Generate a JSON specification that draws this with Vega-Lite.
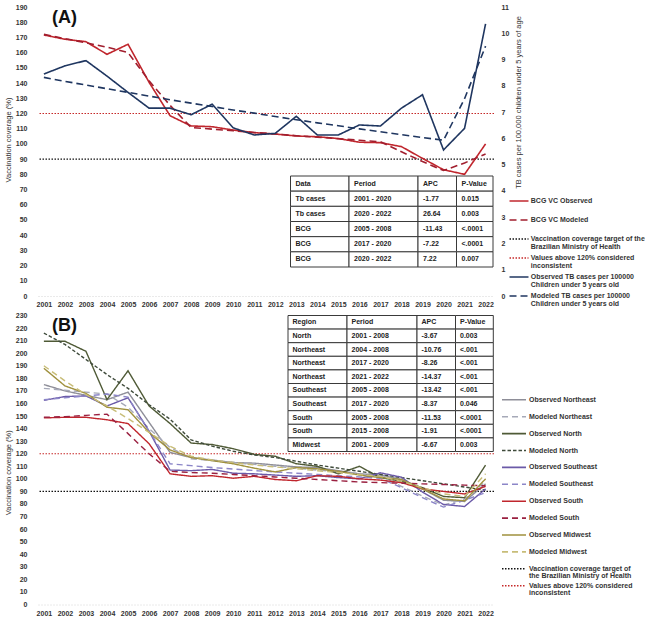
{
  "$schema": "https://vega.github.io/schema/vega-lite/v6.json",
  "padding": {"left": 4, "top": 3, "right": 0, "bottom": 0},
  "spacing": 4.5,
  "config": {
    "font": "Liberation Sans",
    "view": {"stroke": null},
    "axis": {
      "labelFont": "Liberation Sans", "labelFontSize": 7, "labelFontWeight": "bold", "labelColor": "#333333",
      "ticks": false, "grid": false, "domain": false, "labelOverlap": false, "tickCount": 30,
      "titleFont": "Liberation Sans", "titleFontSize": 7.5, "titleFontWeight": "normal", "titleColor": "#333333"
    },
    "legend": {
      "labelFont": "Liberation Sans", "labelFontSize": 7, "labelFontWeight": "bold", "labelColor": "#333333",
      "symbolType": "M-3,0H3", "symbolStrokeWidth": 1.6, "labelLimit": 400, "padding": 0, "gridAlign": "all"
    },
    "style": {"guide-label": {"lineHeight": 7.5}}
  },
  "datasets": {
    "panelA": [
      {"year": 2001, "BCG VC Observed": 171.6, "BCG VC Modeled": 172, "TB Observed": 8.45, "TB Modeled": 8.32},
      {"year": 2002, "BCG VC Observed": 168.8, "BCG VC Modeled": 169.2, "TB Observed": 8.76, "TB Modeled": 8.17},
      {"year": 2003, "BCG VC Observed": 167.2, "BCG VC Modeled": 166.5, "TB Observed": 8.96, "TB Modeled": 8.03},
      {"year": 2004, "BCG VC Observed": 158.9, "BCG VC Modeled": 163.6, "TB Observed": 8.37, "TB Modeled": 7.89},
      {"year": 2005, "BCG VC Observed": 165.5, "BCG VC Modeled": 160, "TB Observed": 7.75, "TB Modeled": 7.75},
      {"year": 2006, "BCG VC Observed": 140.5, "BCG VC Modeled": 141.5, "TB Observed": 7.15, "TB Modeled": 7.61},
      {"year": 2007, "BCG VC Observed": 118.5, "BCG VC Modeled": 125.3, "TB Observed": 7.15, "TB Modeled": 7.47},
      {"year": 2008, "BCG VC Observed": 111.8, "BCG VC Modeled": 110.8, "TB Observed": 6.9, "TB Modeled": 7.34},
      {"year": 2009, "BCG VC Observed": 111.3, "BCG VC Modeled": 109.7, "TB Observed": 7.3, "TB Modeled": 7.21},
      {"year": 2010, "BCG VC Observed": 109.1, "BCG VC Modeled": 108.6, "TB Observed": 6.4, "TB Modeled": 7.08},
      {"year": 2011, "BCG VC Observed": 107.4, "BCG VC Modeled": 107.5, "TB Observed": 6.13, "TB Modeled": 6.96},
      {"year": 2012, "BCG VC Observed": 106.5, "BCG VC Modeled": 106.5, "TB Observed": 6.19, "TB Modeled": 6.83},
      {"year": 2013, "BCG VC Observed": 105.2, "BCG VC Modeled": 105.4, "TB Observed": 6.84, "TB Modeled": 6.71},
      {"year": 2014, "BCG VC Observed": 104.7, "BCG VC Modeled": 104.4, "TB Observed": 6.13, "TB Modeled": 6.59},
      {"year": 2015, "BCG VC Observed": 103.5, "BCG VC Modeled": 103.4, "TB Observed": 6.13, "TB Modeled": 6.48},
      {"year": 2016, "BCG VC Observed": 101.1, "BCG VC Modeled": 102.4, "TB Observed": 6.51, "TB Modeled": 6.36},
      {"year": 2017, "BCG VC Observed": 100.8, "BCG VC Modeled": 101.4, "TB Observed": 6.47, "TB Modeled": 6.25},
      {"year": 2018, "BCG VC Observed": 98.2, "BCG VC Modeled": 94.8, "TB Observed": 7.15, "TB Modeled": 6.14},
      {"year": 2019, "BCG VC Observed": 90.5, "BCG VC Modeled": 88.4, "TB Observed": 7.66, "TB Modeled": 6.03},
      {"year": 2020, "BCG VC Observed": 83, "BCG VC Modeled": 82.5, "TB Observed": 5.56, "TB Modeled": 5.93},
      {"year": 2021, "BCG VC Observed": 80, "BCG VC Modeled": 87.5, "TB Observed": 6.38, "TB Modeled": 7.51},
      {"year": 2022, "BCG VC Observed": 100, "BCG VC Modeled": 93.3, "TB Observed": 10.36, "TB Modeled": 9.51}
    ],
    "panelB": [
      {"year": 2001, "Observed Northeast": 175, "Modeled Northeast": 172, "Observed North": 209.5, "Modeled North": 216, "Observed Southeast": 162.5, "Modeled Southeast": 163, "Observed South": 148.5, "Modeled South": 149, "Observed Midwest": 188, "Modeled Midwest": 190},
      {"year": 2002, "Observed Northeast": 170, "Modeled Northeast": 170.5, "Observed North": 209.5, "Modeled North": 207, "Observed Southeast": 165.5, "Modeled Southeast": 164.5, "Observed South": 149, "Modeled South": 149.5, "Observed Midwest": 174, "Modeled Midwest": 178},
      {"year": 2003, "Observed Northeast": 166.5, "Modeled Northeast": 169, "Observed North": 201.5, "Modeled North": 195, "Observed Southeast": 166, "Modeled Southeast": 166, "Observed South": 149, "Modeled South": 150.5, "Observed Midwest": 168, "Modeled Midwest": 167},
      {"year": 2004, "Observed Northeast": 163, "Modeled Northeast": 167.5, "Observed North": 163, "Modeled North": 183, "Observed Southeast": 158, "Modeled Southeast": 167.5, "Observed South": 147, "Modeled South": 151.5, "Observed Midwest": 157, "Modeled Midwest": 158},
      {"year": 2005, "Observed Northeast": 169, "Modeled Northeast": 157, "Observed North": 186, "Modeled North": 172, "Observed Southeast": 164.5, "Modeled Southeast": 165, "Observed South": 144, "Modeled South": 136, "Observed Midwest": 155, "Modeled Midwest": 148},
      {"year": 2006, "Observed Northeast": 145, "Modeled Northeast": 140, "Observed North": 158, "Modeled North": 159, "Observed Southeast": 138, "Modeled Southeast": 138, "Observed South": 128, "Modeled South": 120, "Observed Midwest": 137, "Modeled Midwest": 137},
      {"year": 2007, "Observed Northeast": 121, "Modeled Northeast": 125, "Observed North": 144, "Modeled North": 147.5, "Observed Southeast": 107, "Modeled Southeast": 112, "Observed South": 104, "Modeled South": 106, "Observed Midwest": 123, "Modeled Midwest": 126},
      {"year": 2008, "Observed Northeast": 117, "Modeled Northeast": 116, "Observed North": 128.5, "Modeled North": 131, "Observed Southeast": 106.5, "Modeled Southeast": 110.5, "Observed South": 102, "Modeled South": 105, "Observed Midwest": 117, "Modeled Midwest": 118},
      {"year": 2009, "Observed Northeast": 115, "Modeled Northeast": 114.5, "Observed North": 127.3, "Modeled North": 126, "Observed Southeast": 107.5, "Modeled Southeast": 109, "Observed South": 102.5, "Modeled South": 104.5, "Observed Midwest": 114.5, "Modeled Midwest": 115},
      {"year": 2010, "Observed Northeast": 113, "Modeled Northeast": 113, "Observed North": 124, "Modeled North": 122, "Observed Southeast": 104.5, "Modeled Southeast": 107.8, "Observed South": 100.5, "Modeled South": 103.5, "Observed Midwest": 112, "Modeled Midwest": 113},
      {"year": 2011, "Observed Northeast": 112.5, "Modeled Northeast": 111.5, "Observed North": 119.5, "Modeled North": 119, "Observed Southeast": 104, "Modeled Southeast": 106.6, "Observed South": 102, "Modeled South": 102.5, "Observed Midwest": 108.5, "Modeled Midwest": 111},
      {"year": 2012, "Observed Northeast": 111, "Modeled Northeast": 110, "Observed North": 118, "Modeled North": 117, "Observed Southeast": 103, "Modeled Southeast": 105.5, "Observed South": 99.5, "Modeled South": 101.5, "Observed Midwest": 105.5, "Modeled Midwest": 109.5},
      {"year": 2013, "Observed Northeast": 109.5, "Modeled Northeast": 108.5, "Observed North": 112, "Modeled North": 114, "Observed Southeast": 102, "Modeled Southeast": 104.5, "Observed South": 98.5, "Modeled South": 100.5, "Observed Midwest": 109, "Modeled Midwest": 108},
      {"year": 2014, "Observed Northeast": 109, "Modeled Northeast": 107, "Observed North": 110, "Modeled North": 111, "Observed Southeast": 102.5, "Modeled Southeast": 103.5, "Observed South": 102.5, "Modeled South": 99.5, "Observed Midwest": 108, "Modeled Midwest": 106.5},
      {"year": 2015, "Observed Northeast": 106.5, "Modeled Northeast": 105.5, "Observed North": 104, "Modeled North": 108.5, "Observed Southeast": 101, "Modeled Southeast": 102.5, "Observed South": 102, "Modeled South": 98.5, "Observed Midwest": 106, "Modeled Midwest": 105},
      {"year": 2016, "Observed Northeast": 104, "Modeled Northeast": 104, "Observed North": 110, "Modeled North": 106, "Observed Southeast": 100, "Modeled Southeast": 101.5, "Observed South": 100, "Modeled South": 97.5, "Observed Midwest": 103, "Modeled Midwest": 103.5},
      {"year": 2017, "Observed Northeast": 103, "Modeled Northeast": 102.5, "Observed North": 101, "Modeled North": 103.5, "Observed Southeast": 104.8, "Modeled Southeast": 100.5, "Observed South": 99, "Modeled South": 97, "Observed Midwest": 101, "Modeled Midwest": 102},
      {"year": 2018, "Observed Northeast": 99.5, "Modeled Northeast": 94, "Observed North": 98, "Modeled North": 101, "Observed Southeast": 101.3, "Modeled Southeast": 93, "Observed South": 97, "Modeled South": 96.5, "Observed Midwest": 99.5, "Modeled Midwest": 98},
      {"year": 2019, "Observed Northeast": 92, "Modeled Northeast": 86.3, "Observed North": 93, "Modeled North": 98.5, "Observed Southeast": 89.5, "Modeled Southeast": 85, "Observed South": 92, "Modeled South": 96, "Observed Midwest": 92, "Modeled Midwest": 93},
      {"year": 2020, "Observed Northeast": 83, "Modeled Northeast": 79.2, "Observed North": 86, "Modeled North": 96, "Observed Southeast": 79.6, "Modeled Southeast": 77.5, "Observed South": 90, "Modeled South": 95.5, "Observed Midwest": 84, "Modeled Midwest": 88},
      {"year": 2021, "Observed Northeast": 82, "Modeled Northeast": 84, "Observed North": 85, "Modeled North": 93.5, "Observed Southeast": 78, "Modeled Southeast": 83, "Observed South": 88, "Modeled South": 95, "Observed Midwest": 82.5, "Modeled Midwest": 86},
      {"year": 2022, "Observed Northeast": 96, "Modeled Northeast": 98, "Observed North": 111, "Modeled North": 91, "Observed Southeast": 92, "Modeled Southeast": 89, "Observed South": 94, "Modeled South": 94.5, "Observed Midwest": 100, "Modeled Midwest": 104}
    ],
    "limits": [
      {"series": "Target", "value": 90},
      {"series": "Above 120%", "value": 120}
    ],
    "tableA": [
      {"Data": "Tb cases", "Period": "2001 - 2020", "APC": "-1.77", "P-Value": "0.015"},
      {"Data": "Tb cases", "Period": "2020 - 2022", "APC": "26.64", "P-Value": "0.003"},
      {"Data": "BCG", "Period": "2005 - 2008", "APC": "-11.43", "P-Value": "<.0001"},
      {"Data": "BCG", "Period": "2017 - 2020", "APC": "-7.22", "P-Value": "<.0001"},
      {"Data": "BCG", "Period": "2020 - 2022", "APC": "7.22", "P-Value": "0.007"}
    ],
    "tableB": [
      {"Region": "North", "Period": "2001 - 2008", "APC": "-3.67", "P-Value": "0.003"},
      {"Region": "Northeast", "Period": "2004 - 2008", "APC": "-10.76", "P-Value": "<.001"},
      {"Region": "Northeast", "Period": "2017 - 2020", "APC": "-8.26", "P-Value": "<.001"},
      {"Region": "Northeast", "Period": "2021 - 2022", "APC": "-14.37", "P-Value": "<.001"},
      {"Region": "Southeast", "Period": "2005 - 2008", "APC": "-13.42", "P-Value": "<.001"},
      {"Region": "Southeast", "Period": "2017 - 2020", "APC": "-8.37", "P-Value": "0.046"},
      {"Region": "South", "Period": "2005 - 2008", "APC": "-11.53", "P-Value": "<.0001"},
      {"Region": "South", "Period": "2015 - 2008", "APC": "-1.91", "P-Value": "<.0001"},
      {"Region": "Midwest", "Period": "2001 - 2009", "APC": "-6.67", "P-Value": "0.003"}
    ]
  },
  "vconcat": [
    {
      "width": 456,
      "height": 289,
      "layer": [
        {
          "layer": [
            {
              "layer": [
                {
                  "data": {"name": "limits"},
                  "mark": {"type": "rule", "strokeWidth": 1.1},
                  "encoding": {
                    "y": {"field": "value", "type": "quantitative"},
                    "color": {"field": "series", "type": "nominal",
                      "scale": {"domain": ["BCG VC Observed", "BCG VC Modeled", "Target", "Above 120%", "TB Observed", "TB Modeled"],
                                "range": ["#C0262D", "#A11E2E", "#111111", "#C62828", "#1F3660", "#1F3660"]}},
                    "strokeDash": {"field": "series", "type": "nominal",
                      "scale": {"domain": ["BCG VC Observed", "BCG VC Modeled", "Target", "Above 120%", "TB Observed", "TB Modeled"],
                                "range": [[1, 0], [7, 4], [1.5, 1.5], [1.5, 1.5], [1, 0], [7, 4]]}}
                  }
                },
                {
                  "data": {"name": "panelA"},
                  "transform": [{"fold": ["BCG VC Observed", "BCG VC Modeled"], "as": ["series", "value"]}],
                  "mark": {"type": "line", "strokeWidth": 1.6},
                  "encoding": {
                    "x": {"field": "year", "type": "quantitative",
                      "scale": {"domain": [2000.72, 2022.4], "nice": false, "zero": false},
                      "axis": {"values": [2001, 2002, 2003, 2004, 2005, 2006, 2007, 2008, 2009, 2010, 2011, 2012, 2013, 2014, 2015, 2016, 2017, 2018, 2019, 2020, 2021, 2022],
                               "tickCount": 30, "format": "d", "title": null, "labelPadding": 4, "labelFlush": false, "labelOverlap": false,
                               "domain": true, "domainColor": "#d4d4d4", "domainDash": [1, 2]}},
                    "y": {"field": "value", "type": "quantitative",
                      "scale": {"domain": [0, 190], "nice": false},
                      "axis": {"orient": "left", "values": [0, 10, 20, 30, 40, 50, 60, 70, 80, 90, 100, 110, 120, 130, 140, 150, 160, 170, 180, 190],
                               "tickCount": 30, "format": "d", "title": "Vaccination coverage (%)", "labelPadding": 11, "labelOverlap": false,
                               "titleAngle": -90, "titleX": -30, "titleY": 132.5, "titleAlign": "center", "titleBaseline": "middle"}},
                    "color": {"field": "series", "type": "nominal",
                      "scale": {"domain": ["BCG VC Observed", "BCG VC Modeled", "Target", "Above 120%", "TB Observed", "TB Modeled"],
                                "range": ["#C0262D", "#A11E2E", "#111111", "#C62828", "#1F3660", "#1F3660"]},
                      "legend": {"orient": "none", "legendX": 477, "legendY": 190, "title": null, "symbolSize": 40, "labelOffset": 7.8, "rowPadding": 4,
                        "labelExpr": "datum.label == 'Target' ? ['Vaccination coverage target of the', 'Brazilian Ministry of Health'] : datum.label == 'Above 120%' ? ['Values above 120% considered', 'inconsistent'] : datum.label == 'TB Observed' ? ['Observed TB cases per 100000', 'Children under 5 years old'] : datum.label == 'TB Modeled' ? ['Modeled TB cases per 100000', 'Children under 5 years old'] : datum.label"}},
                    "strokeDash": {"field": "series", "type": "nominal",
                      "scale": {"domain": ["BCG VC Observed", "BCG VC Modeled", "Target", "Above 120%", "TB Observed", "TB Modeled"],
                                "range": [[1, 0], [7, 4], [1.5, 1.5], [1.5, 1.5], [1, 0], [7, 4]]},
                      "legend": {"orient": "none", "legendX": 477, "legendY": 190, "title": null, "symbolSize": 40, "labelOffset": 7.8, "rowPadding": 4,
                        "labelExpr": "datum.label == 'Target' ? ['Vaccination coverage target of the', 'Brazilian Ministry of Health'] : datum.label == 'Above 120%' ? ['Values above 120% considered', 'inconsistent'] : datum.label == 'TB Observed' ? ['Observed TB cases per 100000', 'Children under 5 years old'] : datum.label == 'TB Modeled' ? ['Modeled TB cases per 100000', 'Children under 5 years old'] : datum.label"}}
                  }
                },
                {
                  "data": {"values": [{"panel": "(A)"}]},
                  "mark": {"type": "text", "align": "left", "baseline": "alphabetic", "fontSize": 18, "fontWeight": "bold", "color": "#111111"},
                  "encoding": {
                    "x": {"datum": 2001.39, "type": "quantitative"},
                    "y": {"datum": 179.5, "type": "quantitative"},
                    "text": {"field": "panel"}
                  }
                }
              ]
            },
            {
              "data": {"name": "panelA"},
              "transform": [{"fold": ["TB Observed", "TB Modeled"], "as": ["series", "value"]}],
              "mark": {"type": "line", "strokeWidth": 1.6},
              "encoding": {
                "x": {"field": "year", "type": "quantitative"},
                "y": {"field": "value", "type": "quantitative",
                  "scale": {"domain": [0, 11], "nice": false},
                  "axis": {"orient": "right", "values": [0, 1, 2, 3, 4, 5, 6, 7, 8, 9, 10, 11],
                           "tickCount": 30, "format": "d", "title": "TB cases per 100,000 children under 5 years of age", "labelPadding": 7, "labelOverlap": false,
                           "titleAngle": -90, "titleX": 24, "titleY": 95, "titleAlign": "center", "titleBaseline": "middle"}},
                "color": {"field": "series", "type": "nominal",
                  "scale": {"domain": ["BCG VC Observed", "BCG VC Modeled", "Target", "Above 120%", "TB Observed", "TB Modeled"],
                            "range": ["#C0262D", "#A11E2E", "#111111", "#C62828", "#1F3660", "#1F3660"]}},
                "strokeDash": {"field": "series", "type": "nominal",
                  "scale": {"domain": ["BCG VC Observed", "BCG VC Modeled", "Target", "Above 120%", "TB Observed", "TB Modeled"],
                            "range": [[1, 0], [7, 4], [1.5, 1.5], [1.5, 1.5], [1, 0], [7, 4]]}}
              }
            }
          ],
          "resolve": {"scale": {"y": "independent"}}
        },
        {
          "data": {"name": "tableA"},
          "transform": [
            {"window": [{"op": "row_number", "as": "r"}]},
            {"fold": ["Data", "Period", "APC", "P-Value"], "as": ["key", "cell"]},
            {"calculate": "indexof(['Data', 'Period', 'APC', 'P-Value'], datum.key)", "as": "c"},
            {"calculate": "datum.c + 1", "as": "c1"},
            {"calculate": "datum.r + 1", "as": "r1"}
          ],
          "layer": [
            {
              "transform": [{"filter": "datum.r == 1"}],
              "mark": {"type": "rect", "fill": "white", "stroke": "#3a3a3a", "strokeWidth": 1},
              "encoding": {
                "x": {"field": "c", "type": "quantitative", "scale": {"domain": [0, 1, 2, 3, 4], "range": [252.5, 311, 380, 418.5, 455], "nice": false, "zero": false}, "axis": null},
                "x2": {"field": "c1"},
                "y": {"datum": 0, "type": "quantitative", "scale": {"domain": [0, 6], "range": [169, 260], "nice": false, "zero": false}, "axis": null},
                "y2": {"datum": 1}
              }
            },
            {
              "mark": {"type": "rect", "fill": "white", "stroke": "#3a3a3a", "strokeWidth": 1},
              "encoding": {
                "x": {"field": "c", "type": "quantitative"},
                "x2": {"field": "c1"},
                "y": {"field": "r", "type": "quantitative"},
                "y2": {"field": "r1"}
              }
            },
            {
              "transform": [{"filter": "datum.r == 1"}],
              "mark": {"type": "text", "align": "left", "baseline": "middle", "dx": 5, "dy": 7.6, "fontSize": 7, "fontWeight": "bold", "color": "#222222"},
              "encoding": {
                "x": {"field": "c", "type": "quantitative"},
                "y": {"datum": 0, "type": "quantitative"},
                "text": {"field": "key"}
              }
            },
            {
              "mark": {"type": "text", "align": "left", "baseline": "middle", "dx": 5, "dy": 7.6, "fontSize": 7, "fontWeight": "bold", "color": "#222222"},
              "encoding": {
                "x": {"field": "c", "type": "quantitative"},
                "y": {"field": "r", "type": "quantitative"},
                "text": {"field": "cell"}
              }
            }
          ]
        }
      ],
      "resolve": {"scale": {"x": "independent", "y": "independent"}}
    },
    {
      "width": 456,
      "height": 289,
      "layer": [
        {
          "layer": [
            {
              "data": {"name": "limits"},
              "mark": {"type": "rule", "strokeWidth": 1.1},
              "encoding": {
                "y": {"field": "value", "type": "quantitative"},
                "color": {"field": "series", "type": "nominal",
                  "scale": {"domain": ["Observed Northeast", "Modeled Northeast", "Observed North", "Modeled North", "Observed Southeast", "Modeled Southeast", "Observed South", "Modeled South", "Observed Midwest", "Modeled Midwest", "Target", "Above 120%"],
                            "range": ["#8E8E98", "#A6A9B8", "#4F5A36", "#3E4A3A", "#6B5AA8", "#8C86C8", "#C0262D", "#9A2040", "#A0913E", "#C8BD78", "#111111", "#C62828"]}},
                "strokeDash": {"field": "series", "type": "nominal",
                  "scale": {"domain": ["Observed Northeast", "Modeled Northeast", "Observed North", "Modeled North", "Observed Southeast", "Modeled Southeast", "Observed South", "Modeled South", "Observed Midwest", "Modeled Midwest", "Target", "Above 120%"],
                            "range": [[1, 0], [6, 4], [1, 0], [3.5, 2], [1, 0], [6, 4], [1, 0], [6, 4], [1, 0], [6, 4], [1.5, 1.5], [1.5, 1.5]]}}
              }
            },
            {
              "data": {"name": "panelB"},
              "transform": [{"fold": ["Observed Northeast", "Modeled Northeast", "Observed North", "Modeled North", "Observed Southeast", "Modeled Southeast", "Observed South", "Modeled South", "Observed Midwest", "Modeled Midwest"], "as": ["series", "value"]}],
              "mark": {"type": "line", "strokeWidth": 1.4},
              "encoding": {
                "x": {"field": "year", "type": "quantitative",
                  "scale": {"domain": [2000.72, 2022.4], "nice": false, "zero": false},
                  "axis": {"values": [2001, 2002, 2003, 2004, 2005, 2006, 2007, 2008, 2009, 2010, 2011, 2012, 2013, 2014, 2015, 2016, 2017, 2018, 2019, 2020, 2021, 2022],
                           "tickCount": 30, "format": "d", "title": null, "labelPadding": 5, "labelFlush": false, "labelOverlap": false,
                           "domain": true, "domainColor": "#d4d4d4", "domainDash": [1, 2]}},
                "y": {"field": "value", "type": "quantitative",
                  "scale": {"domain": [0, 230], "nice": false},
                  "axis": {"orient": "left", "values": [0, 10, 20, 30, 40, 50, 60, 70, 80, 90, 100, 110, 120, 130, 140, 150, 160, 170, 180, 190, 200, 210, 220, 230],
                           "tickCount": 30, "format": "d", "title": "Vaccination coverage (%)", "labelPadding": 11, "labelOverlap": false,
                           "titleAngle": -90, "titleX": -30, "titleY": 156.7, "titleAlign": "center", "titleBaseline": "middle"}},
                "color": {"field": "series", "type": "nominal",
                  "scale": {"domain": ["Observed Northeast", "Modeled Northeast", "Observed North", "Modeled North", "Observed Southeast", "Modeled Southeast", "Observed South", "Modeled South", "Observed Midwest", "Modeled Midwest", "Target", "Above 120%"],
                            "range": ["#8E8E98", "#A6A9B8", "#4F5A36", "#3E4A3A", "#6B5AA8", "#8C86C8", "#C0262D", "#9A2040", "#A0913E", "#C8BD78", "#111111", "#C62828"]},
                  "legend": {"orient": "none", "legendX": 471, "legendY": 79.3, "title": null, "symbolSize": 64, "labelOffset": 10, "rowPadding": 0.9,
                    "labelExpr": "datum.label == 'Target' ? ['Vaccination coverage target of', 'the Brazilian Ministry of Health'] : datum.label == 'Above 120%' ? ['Values above 120% considered', 'inconsistent'] : datum.label"}},
                "strokeDash": {"field": "series", "type": "nominal",
                  "scale": {"domain": ["Observed Northeast", "Modeled Northeast", "Observed North", "Modeled North", "Observed Southeast", "Modeled Southeast", "Observed South", "Modeled South", "Observed Midwest", "Modeled Midwest", "Target", "Above 120%"],
                            "range": [[1, 0], [6, 4], [1, 0], [3.5, 2], [1, 0], [6, 4], [1, 0], [6, 4], [1, 0], [6, 4], [1.5, 1.5], [1.5, 1.5]]},
                  "legend": {"orient": "none", "legendX": 471, "legendY": 79.3, "title": null, "symbolSize": 64, "labelOffset": 10, "rowPadding": 0.9,
                    "labelExpr": "datum.label == 'Target' ? ['Vaccination coverage target of', 'the Brazilian Ministry of Health'] : datum.label == 'Above 120%' ? ['Values above 120% considered', 'inconsistent'] : datum.label"}}
              }
            },
            {
              "data": {"values": [{"panel": "(B)"}]},
              "mark": {"type": "text", "align": "left", "baseline": "alphabetic", "fontSize": 18, "fontWeight": "bold", "color": "#111111"},
              "encoding": {
                "x": {"datum": 2001.39, "type": "quantitative"},
                "y": {"datum": 217.3, "type": "quantitative"},
                "text": {"field": "panel"}
              }
            }
          ]
        },
        {
          "data": {"name": "tableB"},
          "transform": [
            {"window": [{"op": "row_number", "as": "r"}]},
            {"fold": ["Region", "Period", "APC", "P-Value"], "as": ["key", "cell"]},
            {"calculate": "indexof(['Region', 'Period', 'APC', 'P-Value'], datum.key)", "as": "c"},
            {"calculate": "datum.c + 1", "as": "c1"},
            {"calculate": "datum.r + 1", "as": "r1"}
          ],
          "layer": [
            {
              "transform": [{"filter": "datum.r == 1"}],
              "mark": {"type": "rect", "fill": "white", "stroke": "#3a3a3a", "strokeWidth": 1},
              "encoding": {
                "x": {"field": "c", "type": "quantitative", "scale": {"domain": [0, 1, 2, 3, 4], "range": [250, 309, 379, 417.5, 455.3], "nice": false, "zero": false}, "axis": null},
                "x2": {"field": "c1"},
                "y": {"datum": 0, "type": "quantitative", "scale": {"domain": [0, 10], "range": [0, 136], "nice": false, "zero": false}, "axis": null},
                "y2": {"datum": 1}
              }
            },
            {
              "mark": {"type": "rect", "fill": "white", "stroke": "#3a3a3a", "strokeWidth": 1},
              "encoding": {
                "x": {"field": "c", "type": "quantitative"},
                "x2": {"field": "c1"},
                "y": {"field": "r", "type": "quantitative"},
                "y2": {"field": "r1"}
              }
            },
            {
              "transform": [{"filter": "datum.r == 1"}],
              "mark": {"type": "text", "align": "left", "baseline": "middle", "dx": 4.5, "dy": 6.8, "fontSize": 7, "fontWeight": "bold", "color": "#222222"},
              "encoding": {
                "x": {"field": "c", "type": "quantitative"},
                "y": {"datum": 0, "type": "quantitative"},
                "text": {"field": "key"}
              }
            },
            {
              "mark": {"type": "text", "align": "left", "baseline": "middle", "dx": 4.5, "dy": 6.8, "fontSize": 7, "fontWeight": "bold", "color": "#222222"},
              "encoding": {
                "x": {"field": "c", "type": "quantitative"},
                "y": {"field": "r", "type": "quantitative"},
                "text": {"field": "cell"}
              }
            }
          ]
        }
      ],
      "resolve": {"scale": {"x": "independent", "y": "independent"}}
    }
  ],
  "resolve": {"scale": {"color": "independent", "strokeDash": "independent"}, "legend": {"color": "independent", "strokeDash": "independent"}}
}
